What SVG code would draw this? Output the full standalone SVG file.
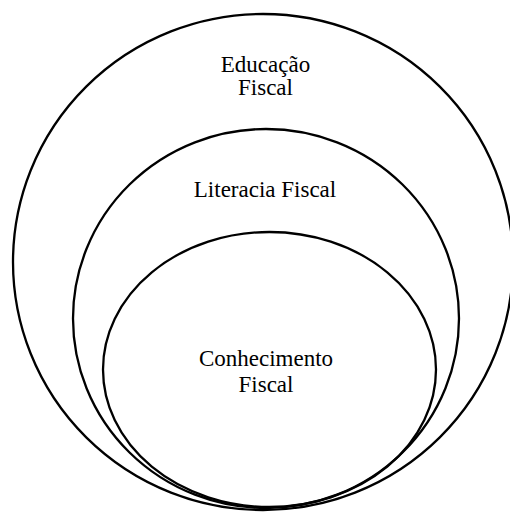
<svg xmlns="http://www.w3.org/2000/svg" width="510" height="512" viewBox="0 0 510 512">
<style>
.e{fill:none;stroke:#000;stroke-width:2.3}
.t{font-family:"Liberation Serif","Times New Roman",serif;font-size:23px;fill:#000;text-anchor:middle}
</style>
<rect width="510" height="512" fill="#fff"/>
<g id="educacao">
<ellipse class="e" cx="263" cy="262" rx="250" ry="248"/>
<text class="t" x="265.5" y="72">Educação</text>
<text class="t" x="265.5" y="95">Fiscal</text>
</g>
<g id="literacia">
<ellipse class="e" cx="266" cy="318.5" rx="193" ry="189.5"/>
<text class="t" x="265" y="197">Literacia Fiscal</text>
</g>
<g id="conhecimento">
<ellipse class="e" cx="269.5" cy="369.5" rx="166.5" ry="137.5"/>
<text class="t" x="266" y="366">Conhecimento</text>
<text class="t" x="266" y="392">Fiscal</text>
</g>
<g id="connectors"/>
</svg>
